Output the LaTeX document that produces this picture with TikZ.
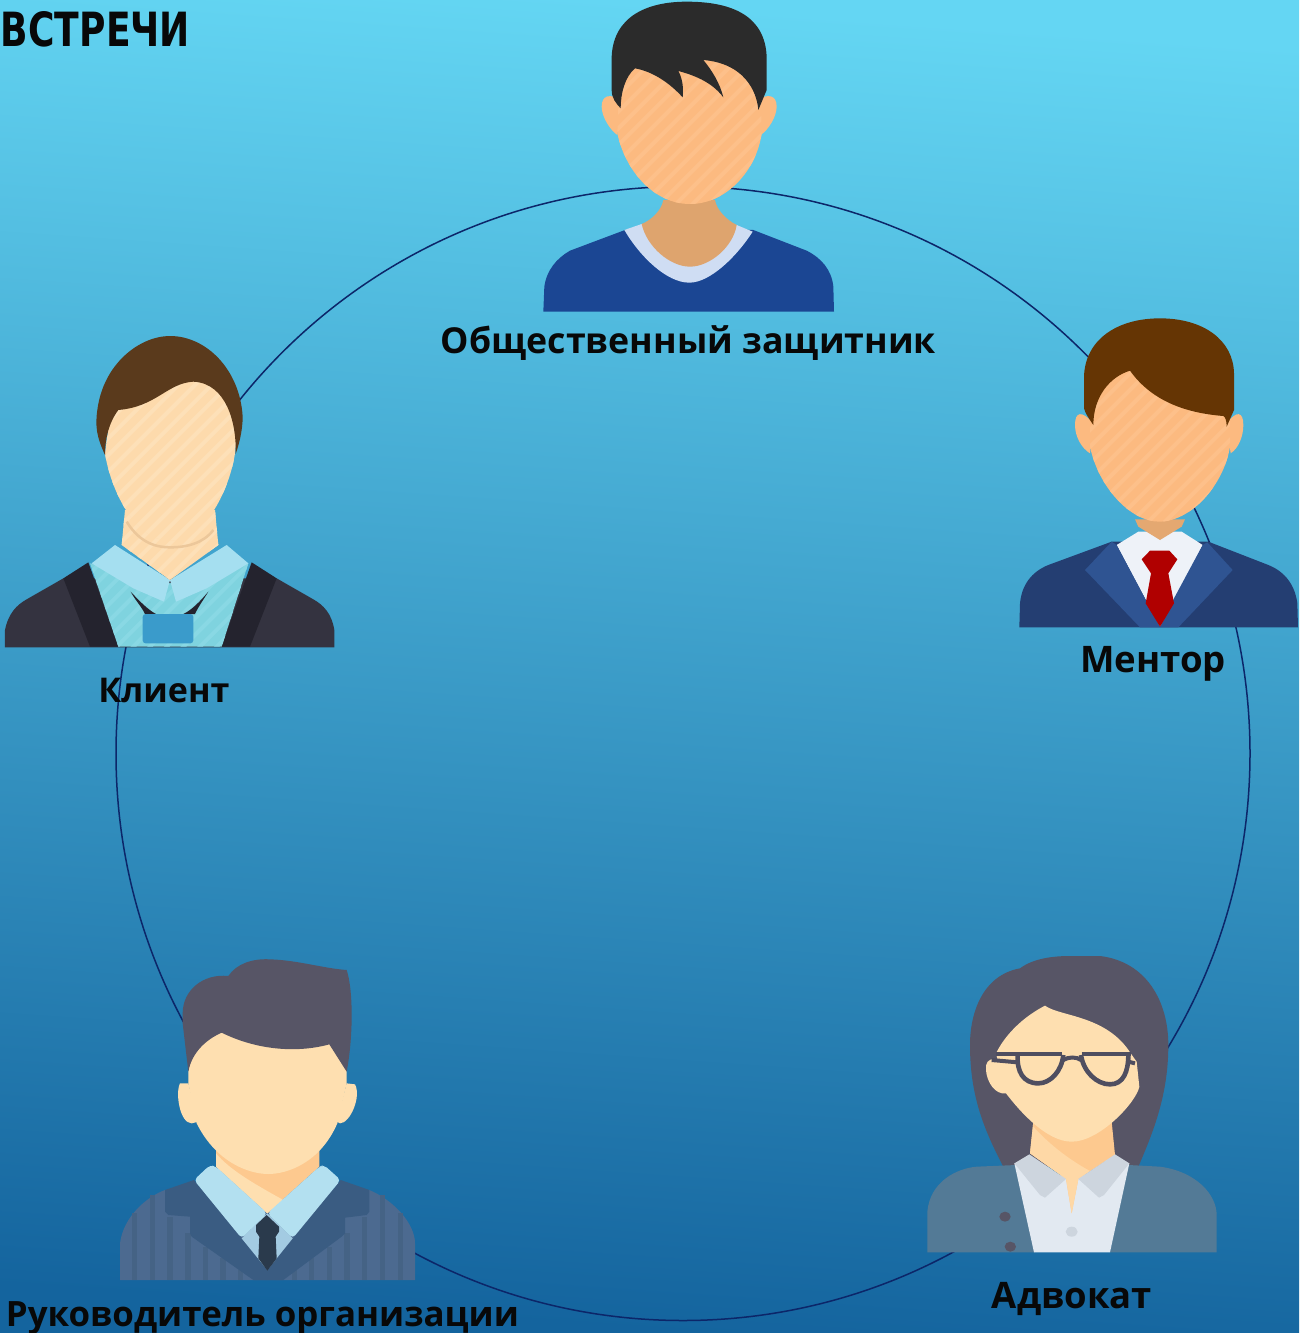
\documentclass[tikz,border=0pt]{standalone}
\usepackage{fontspec}
\usepackage{graphicx}
\setmainfont{Open Sans}
\newfontfamily\titlefont{DejaVu Sans}
\definecolor{bgtop}{RGB}{100,214,243}
\definecolor{bgmid}{RGB}{60,155,203}
\definecolor{bgbot}{RGB}{20,100,158}
\definecolor{ringc}{RGB}{12,38,105}
\definecolor{txtc}{RGB}{8,8,8}
\definecolor{skinA}{RGB}{252,186,128}
\definecolor{skinAl}{RGB}{253,192,138}
\definecolor{neckA}{RGB}{222,164,110}
\definecolor{hairA}{RGB}{43,43,43}
\definecolor{shirtA}{RGB}{27,70,147}
\definecolor{collarA}{RGB}{207,221,243}
\definecolor{hairB}{RGB}{101,53,4}
\definecolor{suitB}{RGB}{36,62,114}
\definecolor{lapelB}{RGB}{47,84,146}
\definecolor{tieB}{RGB}{176,0,0}
\definecolor{shirtB}{RGB}{238,242,248}
\definecolor{hairC}{RGB}{90,58,28}
\definecolor{skinC}{RGB}{253,218,172}
\definecolor{skinCl}{RGB}{253,224,184}
\definecolor{shadeC}{RGB}{236,199,154}
\definecolor{jackC}{RGB}{52,51,64}
\definecolor{lapelC}{RGB}{36,35,46}
\definecolor{shirtC}{RGB}{127,211,223}
\definecolor{shirtCl}{RGB}{137,216,228}
\definecolor{collarC}{RGB}{165,223,240}
\definecolor{cardC}{RGB}{58,155,203}
\definecolor{hairD}{RGB}{87,85,102}
\definecolor{skinD}{RGB}{254,223,176}
\definecolor{neckD}{RGB}{253,201,143}
\definecolor{bodyD}{RGB}{76,106,144}
\definecolor{bodyDs}{RGB}{69,99,133}
\definecolor{vestD}{RGB}{58,92,130}
\definecolor{collarD}{RGB}{179,224,240}
\definecolor{underD}{RGB}{163,203,226}
\definecolor{tieD}{RGB}{42,58,76}
\definecolor{jackE}{RGB}{83,122,150}
\definecolor{shirtE}{RGB}{226,233,241}
\definecolor{collarE}{RGB}{205,213,222}
\definecolor{glassE}{RGB}{79,78,96}
\tikzset{
  ring/.style={draw=ringc,line width=1.5pt},
  label/.style={inner sep=0pt,anchor=base,text=txtc,font=\bfseries},
  hatched/.style={path picture={\foreach \k in {-20,...,24}{\draw[line width=4pt,#1] ({\k*50},1100) -- ({\k*50+1100},0);}}},
  seat/.style={shift={#1},scale=1/3}
}
\begin{document}
\begin{tikzpicture}[x=1pt,y=-1pt]
\useasboundingbox (0,0) rectangle (1299,1333);
\clip (0,0) rectangle (1299,1333);
\shade[top color=bgtop,middle color=bgmid,bottom color=bgbot,shading angle=-4] (0,0) rectangle (1299,1333);
% ring
\draw[ring] (683,753.5) circle [radius=567];

% Defender
\begin{scope}[seat={(530,0)}]
\fill[shirtA] (40,935) -- (43,860) .. controls (50,810) and (80,775) .. (120,752) -- (285,690) -- (670,690) -- (830,752) .. controls (875,775) and (905,810) .. (910,860) -- (912,935) -- cycle;
\fill[collarA] (283,690) -- (335,672) -- (620,675) -- (668,695) .. controls (620,770) and (540,848) .. (478,848) .. controls (410,848) and (330,770) .. (283,690) -- cycle;
\fill[neckA] (400,600) .. controls (395,630) and (365,660) .. (335,672) .. controls (350,740) and (420,800) .. (480,800) .. controls (540,800) and (610,740) .. (620,675) .. controls (590,660) and (560,630) .. (555,600) -- cycle;
\fill[skinA] (275,300) .. controls (240,280) and (215,285) .. (215,320) .. controls (215,350) and (240,390) .. (262,405) -- cycle;
\fill[skinA] (680,300) .. controls (715,280) and (740,285) .. (740,320) .. controls (740,350) and (715,390) .. (692,405) -- cycle;
\fill[skinA,hatched=skinAl] (262,400) .. controls (285,510) and (370,612) .. (480,612) .. controls (590,612) and (680,510) .. (695,400) -- (690,180) -- (270,180) -- cycle;
\fill[hairA] (272,325) .. controls (258,310) and (245,295) .. (245,270) -- (245,170) .. controls (250,50) and (350,5) .. (470,5) .. controls (610,5) and (705,50) .. (710,170) -- (710,270) -- (685,330) .. controls (680,270) and (640,190) .. (520,180) .. controls (545,210) and (570,250) .. (580,292) .. controls (545,245) and (490,225) .. (445,213) .. controls (460,240) and (460,270) .. (458,292) .. controls (420,250) and (370,215) .. (315,205) .. controls (285,230) and (272,280) .. (272,325) -- cycle;
\end{scope}

% Mentor
\begin{scope}[seat={(1010,310)}]
\fill[suitB] (28,952) -- (30,880) .. controls (35,825) and (65,785) .. (115,765) -- (305,695) -- (595,695) -- (775,765) .. controls (825,785) and (855,825) .. (862,880) -- (864,952) -- cycle;
\fill[shirtB] (320,705) -- (385,665) -- (515,665) -- (578,705) -- (500,865) -- (450,950) -- (405,865) -- cycle;
\fill[lapelB] (305,695) -- (225,780) -- (390,952) -- (450,952) -- (405,865) -- (320,705) -- cycle;
\fill[lapelB] (592,697) -- (668,780) -- (505,952) -- (450,952) -- (492,865) -- (578,705) -- cycle;
\fill[tieB] (395,748) -- (420,722) -- (478,722) -- (502,748) -- (475,790) -- (492,880) -- (450,950) -- (407,880) -- (423,790) -- cycle;
\fill[neckA!80!skinA] (375,628) -- (385,650) -- (450,690) -- (515,650) -- (525,628) -- cycle;
\fill[skinA] (250,340) .. controls (215,300) and (195,305) .. (195,345) .. controls (195,380) and (215,415) .. (240,430) -- cycle;
\fill[skinA] (650,340) .. controls (680,300) and (700,305) .. (700,345) .. controls (700,380) and (685,415) .. (662,430) -- cycle;
\fill[skinA,hatched=skinAl] (240,410) .. controls (265,530) and (360,635) .. (448,635) .. controls (540,635) and (640,530) .. (660,410) -- (660,180) -- (240,180) -- cycle;
\fill[hairB] (250,345) .. controls (240,330) and (225,310) .. (222,295) -- (222,200) .. controls (225,90) and (320,25) .. (450,25) .. controls (580,25) and (670,90) .. (672,190) -- (672,300) -- (650,350) .. controls (650,330) and (645,320) .. (640,318) .. controls (540,310) and (430,280) .. (360,182) .. controls (300,200) and (250,260) .. (250,345) -- cycle;
\end{scope}

% Client
\begin{scope}[seat={(0,330)}]
\fill[jackC] (15,952) -- (15,900) .. controls (25,850) and (50,825) .. (80,808) -- (190,745) -- (830,745) -- (940,808) .. controls (970,825) and (995,850) .. (1003,900) -- (1003,952) -- cycle;
\fill[lapelC] (190,745) -- (265,697) -- (355,950) -- (270,950) -- cycle;
\fill[lapelC] (830,745) -- (755,697) -- (665,950) -- (750,950) -- cycle;
\fill[shirtC,hatched=shirtCl] (270,700) -- (355,950) -- (665,950) -- (745,700) -- (510,760) -- cycle;
\fill[collarC] (275,700) -- (345,645) -- (510,750) -- (492,815) -- (400,775) -- cycle;
\fill[collarC] (745,700) -- (680,645) -- (510,750) -- (528,815) -- (620,775) -- cycle;
\fill[lapelC] (392,785) .. controls (420,815) and (445,840) .. (468,852) -- (435,852) .. controls (425,830) and (405,810) .. (392,785) -- cycle;
\fill[lapelC] (625,785) .. controls (600,815) and (575,840) .. (550,852) -- (585,852) .. controls (595,830) and (610,810) .. (625,785) -- cycle;
\fill[cardC,rounded corners=3pt] (428,852) rectangle (580,940);
\fill[skinC,hatched=skinCl] (375,540) -- (365,645) -- (510,750) -- (655,645) -- (645,540) -- cycle;
\draw[shadeC,line width=2.5pt] (380,575) .. controls (420,640) and (470,652) .. (510,652) .. controls (560,652) and (610,640) .. (640,600);
\fill[skinC,hatched=skinCl] (315,370) .. controls (330,470) and (400,632) .. (510,632) .. controls (620,632) and (690,470) .. (705,370) -- (715,250) -- (600,130) -- (450,150) -- (330,260) -- cycle;
\fill[hairC] (315,375) .. controls (290,320) and (285,290) .. (292,240) .. controls (310,100) and (420,18) .. (510,18) .. controls (620,18) and (720,120) .. (728,260) .. controls (728,300) and (718,340) .. (707,372) .. controls (710,280) and (680,160) .. (580,155) .. controls (500,160) and (470,230) .. (355,240) .. controls (325,280) and (315,330) .. (315,375) -- cycle;
\end{scope}

% Leader
\begin{scope}[seat={(110,950)}]
\fill[bodyD] (30,990) -- (30,880) .. controls (40,800) and (110,740) .. (165,720) -- (778,720) .. controls (850,750) and (915,820) .. (915,880) -- (915,990) -- cycle;
\foreach \a/\b/\c in {65/82/790,120/135/735,172/190/800,225/242/850,278/295/890,330/347/925,385/400/960,545/560/960,597/612/925,650/665/890,703/720/850,755/772/800,810/825/735,865/880/790}{
  \fill[bodyDs] (\a,\c) rectangle (\b,990);
}
\fill[vestD] (165,720) -- (252,690) -- (472,960) -- (692,690) -- (778,720) -- (778,785) -- (770,795) -- (705,803) -- (705,850) -- (695,860) -- (520,990) -- (430,990) -- (245,860) -- (240,850) -- (240,800) -- (175,795) -- (165,785) -- cycle;
\fill[neckD] (318,600) -- (318,650) -- (472,790) -- (628,650) -- (628,600) -- cycle;
\fill[skinD] (318,610) -- (318,650) -- (472,790) -- (520,750) .. controls (430,700) and (360,660) .. (318,610) -- cycle;
\fill[underD] (395,865) -- (472,790) -- (548,865) -- (472,960) -- cycle;
\fill[collarD,rounded corners=4pt] (252,690) -- (300,645) -- (318,650) -- (472,790) -- (395,865) -- cycle;
\fill[collarD,rounded corners=4pt] (692,690) -- (642,645) -- (628,650) -- (472,790) -- (548,865) -- cycle;
\fill[tieD] (470,795) -- (507,830) -- (507,845) -- (497,860) -- (500,925) -- (472,962) -- (445,925) -- (448,860) -- (438,845) -- (438,825) -- cycle;
\fill[skinD] (235,400) -- (210,400) .. controls (195,430) and (210,520) .. (245,520) -- (265,515) -- cycle;
\fill[skinD] (710,400) -- (735,403) .. controls (755,440) and (720,520) .. (690,520) -- (680,515) -- cycle;
\fill[skinD] (235,340) -- (235,400) -- (260,520) .. controls (320,640) and (420,672) .. (475,672) .. controls (530,672) and (630,640) .. (682,520) -- (710,400) -- (710,340) -- (650,220) -- (340,200) -- (250,230) -- cycle;
\fill[hairD] (235,365) -- (218,220) -- (218,190) .. controls (218,120) and (280,70) .. (355,78) .. controls (380,40) and (430,25) .. (480,28) .. controls (560,30) and (640,55) .. (710,60) .. controls (730,120) and (730,260) .. (710,365) -- (658,283) .. controls (560,310) and (440,300) .. (335,248) .. controls (285,270) and (245,310) .. (235,365) -- cycle;
\end{scope}

% Lawyer
\begin{scope}[seat={(920,945)}]
\fill[hairD] (250,665) .. controls (190,550) and (150,450) .. (150,300) .. controls (150,200) and (190,90) .. (300,70) .. controls (340,40) and (400,33) .. (450,33) -- (540,33) .. controls (680,50) and (745,170) .. (745,300) .. controls (745,450) and (700,560) .. (655,665) -- cycle;
\fill[jackE] (22,922) -- (22,800) .. controls (30,710) and (110,670) .. (170,665) -- (290,660) -- (345,922) -- cycle;
\fill[jackE] (625,660) -- (720,665) .. controls (830,680) and (890,750) .. (890,810) -- (890,922) -- (570,922) -- cycle;
\fill[shirtE] (283,655) -- (342,922) -- (570,922) -- (628,655) -- (455,700) -- cycle;
\fill[neckD] (340,530) -- (330,625) -- (438,702) -- (455,805) -- (475,702) -- (585,630) -- (575,530) -- cycle;
\fill[skinD!70!neckD] (340,530) -- (330,625) -- (438,702) -- (455,805) -- (475,702) -- (510,678) .. controls (440,640) and (380,590) .. (340,545) -- cycle;
\fill[collarE] (283,655) -- (328,628) -- (438,702) -- (375,758) -- (360,750) -- cycle;
\fill[collarE] (628,655) -- (585,628) -- (475,702) -- (537,758) -- (552,750) -- cycle;
\fill[hairD] (255,815) circle [x radius=17,y radius=15];
\fill[hairD] (271,905) circle [x radius=17,y radius=15];
\fill[collarE] (455,860) circle [x radius=18,y radius=15];
\fill[skinD] (262,345) -- (225,342) .. controls (205,340) and (195,355) .. (198,375) .. controls (200,410) and (225,450) .. (258,445) -- cycle;
\fill[skinD] (228,325) .. controls (260,260) and (320,210) .. (375,182) .. controls (420,215) and (560,210) .. (632,325) -- (650,350) -- (658,425) .. controls (650,470) and (540,590) .. (455,590) .. controls (380,590) and (300,500) .. (258,445) -- cycle;
\draw[glassE,line width=4.2pt] (228,326) -- (425,326);
\draw[glassE,line width=4.2pt] (485,326) -- (632,326);
\draw[glassE,line width=4pt] (215,345) -- (293,352);
\draw[glassE,line width=4pt] (625,350) -- (645,355);
\draw[glassE,line width=4.6pt] (293,330) .. controls (290,380) and (310,415) .. (355,415) .. controls (390,415) and (425,380) .. (430,330);
\draw[glassE,line width=4.6pt] (483,330) .. controls (490,380) and (530,418) .. (570,418) .. controls (610,418) and (625,380) .. (625,330);
\draw[glassE,line width=4pt] (430,345) .. controls (445,335) and (470,335) .. (483,345);
\end{scope}

% labels
\node[label] (title) at (95.5,46) {\resizebox{189pt}{35pt}{\titlefont ВСТРЕЧИ}};
\node[label] (defender) at (688.5,353.5) {\resizebox{495pt}{!}{Общественный защитник}};
\node[label] (mentor) at (1153,672) {\resizebox{146pt}{!}{Ментор}};
\node[label] (client) at (164,702) {\resizebox{131pt}{!}{Клиент}};
\node[label] (leader) at (262.5,1326) {\resizebox{513pt}{!}{Руководитель организации}};
\node[label] (lawyer) at (1072,1308) {\resizebox{160pt}{!}{Адвокат}};
\end{tikzpicture}
\end{document}
